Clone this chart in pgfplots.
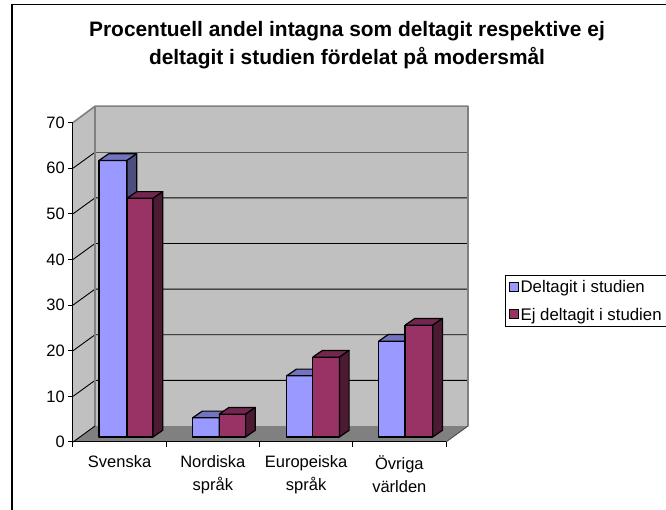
\documentclass[border=0pt]{standalone}
\usepackage{fontspec}
\setmainfont{Liberation Sans}
\usepackage{pgfplots}
\pgfplotsset{compat=1.18}

\definecolor{wall}{HTML}{C0C0C0}
\definecolor{floorc}{HTML}{808080}
\definecolor{blueF}{HTML}{9999FF}
\definecolor{blueT}{HTML}{7373BF}
\definecolor{blueS}{HTML}{4D4D80}
\definecolor{redF}{HTML}{993366}
\definecolor{redT}{HTML}{732650}
\definecolor{redS}{HTML}{4D1A33}

% one 3D bar: left x, right x, value, colour prefix
\newcommand{\dbar}[4]{%
  \pgfmathsetmacro{\yb}{1.1}%
  \pgfmathsetmacro{\yt}{#3+1.1}%
  \pgfmathsetmacro{\ytb}{#3+1.1+1.47}%
  \pgfmathsetmacro{\ybb}{1.1+1.47}%
  \pgfmathsetmacro{\xr}{#2+0.104}%
  \pgfmathsetmacro{\xl}{#1+0.104}%
  \edef\temp{%
    \noexpand\addplot[forget plot,fill=#4F,draw=black,line width=1.2pt,line join=round] coordinates {(#1,\yb) (#2,\yb) (#2,\yt) (#1,\yt)} -- cycle;
    \noexpand\addplot[forget plot,fill=#4T,draw=black,line width=1.2pt,line join=round] coordinates {(#1,\yt) (#2,\yt) (\xr,\ytb) (\xl,\ytb)} -- cycle;
    \noexpand\addplot[forget plot,fill=#4S,draw=black,line width=1.2pt,line join=round] coordinates {(#2,\yb) (\xr,\ybb) (\xr,\ytb) (#2,\yt)} -- cycle;
  }\temp}

\begin{document}
\begin{tikzpicture}[x=1pt,y=1pt]
\useasboundingbox (-73,-68) rectangle (593,442);
\draw[black,line width=1.2pt] (-61,-70) -- (-61,437.5) -- (600,437.5);
\begin{axis}[
    at={(0,0)},
    scale only axis,
    width=373pt,
    height=319.4pt,
    clip=false,
    axis on top,
    xmin=0, xmax=4,
    ymin=0, ymax=70,
    axis x line=bottom,
    axis y line=left,
    axis line style={-,line width=1pt,black},
    xtick={0.5,1.5,2.5,3.5},
    xticklabels={Svenska,{Nordiska\\språk},{Europeiska\\språk},{Övriga\\världen}},
    minor xtick={0,1,2,3,4},
    ytick={0,10,...,70},
    major x tick style={draw=none},
    tick style={black,line width=1pt},
    major tick length=5pt,
    minor tick length=5pt,
    tick align=outside,
    /pgf/number format/assume math mode=true,
    tick label style={font=\fontsize{16.5}{23}\selectfont},
    yticklabel style={inner sep=0pt,xshift=-3pt},
    xticklabel style={align=center,anchor=north,inner sep=0pt,yshift=-8pt},
    title={Procentuell andel intagna som deltagit respektive ej\\deltagit i studien fördelat på modersmål},
    title style={font=\fontsize{20.9}{28}\selectfont\bfseries,align=center,at={(rel axis cs:0.7346,1)},anchor=south,inner sep=0pt,yshift=47pt},
    legend style={at={(axis cs:4.635,36.6)},anchor=north west,draw=black,line width=0.8pt,
      font=\fontsize{16.8}{18}\selectfont,inner sep=3pt,row sep=10pt,fill=white},
    legend cell align=left,
    legend image code/.code={\draw[#1,line width=1pt] (0pt,-4pt) rectangle (9pt,5pt);},
    legend entries={Deltagit i studien,Ej deltagit i studien},
]
\addlegendimage{fill=blueF,draw=black}
\addlegendimage{fill=redF,draw=black}

% walls and floor
\addplot[forget plot,fill=wall,draw=none] coordinates {(0.236,3.5) (4.236,3.5) (4.236,73.6) (0.236,73.6)} -- cycle;
\addplot[forget plot,fill=wall,draw=none] coordinates {(0,0) (0.236,3.5) (0.236,73.6) (0,70)} -- cycle;
\addplot[forget plot,fill=floorc,draw=none] coordinates {(0,0) (4,0) (4.236,3.5) (0.236,3.5)} -- cycle;

% gridlines
\foreach \v/\w in {10/13.5,20/23.5,30/33.5,40/43.5,50/53.5} {
  \edef\temp{\noexpand\addplot[forget plot,black,line width=0.9pt] coordinates {(0,\v) (0.236,\w) (4.236,\w)};}\temp
}
\addplot[forget plot,black,line width=0.9pt] coordinates {(0,60) (0.236,63.5)};
\addplot[forget plot,black!65,line width=1.3pt] coordinates {(0.236,63.5) (4.236,63.5)};
\addplot[forget plot,floorc,line width=1.6pt,line join=round] coordinates {(0,70) (0.236,73.6) (4.236,73.6) (4.236,3.5)};
\addplot[forget plot,floorc,line width=1.6pt] coordinates {(0.236,73.6) (0.236,3.5)};
\addplot[forget plot,black,line width=0.9pt] coordinates {(0,0) (0.236,3.5)};
\addplot[forget plot,black!70,line width=0.9pt] coordinates {(4,0) (4.236,3.5)};

% bars, x positions as fractions of one category
\dbar{0.279}{0.579}{60.6}{blue}
\dbar{0.579}{0.858}{52.3}{red}
\dbar{1.283}{1.568}{4.2}{blue}
\dbar{1.568}{1.851}{5.0}{red}
\dbar{2.292}{2.571}{13.4}{blue}
\dbar{2.571}{2.857}{17.5}{red}
\dbar{3.278}{3.561}{21.0}{blue}
\dbar{3.561}{3.858}{24.5}{red}
\end{axis}
\end{tikzpicture}
\end{document}
